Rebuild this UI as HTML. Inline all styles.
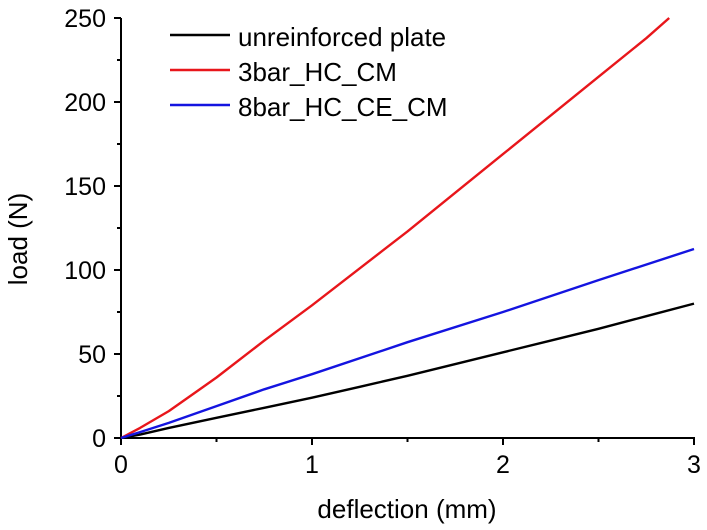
<!DOCTYPE html>
<html><head><meta charset="utf-8"><style>
body{margin:0;background:#fff;}
svg{display:block;font-family:"Liberation Sans",Arial,sans-serif;}
</style></head><body>
<svg id="chart" width="707" height="530"></svg>
<script>
const xTicks=[0,1,2,3];
const yTicks=[0,50,100,150,200,250];
const seriesNames=["unreinforced plate","3bar_HC_CM","8bar_HC_CE_CM"];
const seriesColors=["#000000","#e8161b","#1414e0"];
const blackX=[0,0.1,0.25,0.5,0.75,1,1.25,1.5,1.75,2,2.25,2.5,2.75,3];
const blackY=[0,2,6,12,18,24,30.5,37,44,51,58,65,72.5,80];
const redX=[0,0.1,0.25,0.4,0.5,0.75,1,1.25,1.5,1.75,2,2.25,2.5,2.75,2.87];
const redY=[0,6,16,28,36,58,79,101,123,146,169,192,215,238,250];
const blueX=[0,0.1,0.25,0.5,0.75,1,1.5,2,2.5,3];
const blueY=[0,3.5,9,19,29,38,57,75,94,112.5];
const X0=121,X1=694,Y0=438,Y1=18;
const sx=v=>X0+(v-0)/(3-0)*(X1-X0);
const sy=v=>Y0-(v-0)/(250-0)*(Y0-Y1);
const svg=document.getElementById('chart');
const NS='http://www.w3.org/2000/svg';
function mk(t,a,txt){const e=document.createElementNS(NS,t);for(const k in a)e.setAttribute(k,a[k]);if(txt!==undefined)e.textContent=txt;svg.appendChild(e);return e;}
let e;
e=mk('line',{x1:X0,y1:Y0,x2:X1+1,y2:Y0,stroke:'#000','stroke-width':2});


e=mk('line',{x1:X0,y1:Y0,x2:X0,y2:Y1,stroke:'#000','stroke-width':2});


xTicks.forEach((t,i)=>{
 e=mk('line',{x1:sx(t),y1:Y0,x2:sx(t),y2:Y0+7,stroke:'#000','stroke-width':2});
 
 
 if(i<xTicks.length-1){e=mk('line',{x1:sx(t+0.5),y1:Y0,x2:sx(t+0.5),y2:Y0+4,stroke:'#000','stroke-width':2});
 
 }
 e=mk('text',{x:sx(t),y:Y0+35,'font-size':25,'text-anchor':'middle'},String(t));
 
 
});
yTicks.forEach((t,i)=>{
 e=mk('line',{x1:X0-7,y1:sy(t),x2:X0,y2:sy(t),stroke:'#000','stroke-width':2});
 
 
 if(i<yTicks.length-1){e=mk('line',{x1:X0-4,y1:sy(t+25),x2:X0,y2:sy(t+25),stroke:'#000','stroke-width':2});
 
 }
 e=mk('text',{x:X0-15,y:sy(t)+9,'font-size':25,'text-anchor':'end'},String(t));
 
 
});
e=mk('text',{x:407,y:518,'font-size':26,'text-anchor':'middle'},'deflection (mm)');


e=mk('text',{x:0,y:0,'font-size':26,'text-anchor':'middle',transform:'translate(27,239) rotate(-90)'},'load (N)');


const all=[[blackX,blackY],[redX,redY],[blueX,blueY]];
all.forEach((s,i)=>{
 const d=s[0].map((x,j)=>(j?'L':'M')+sx(x).toFixed(1)+','+sy(s[1][j]).toFixed(1)).join(' ');
 e=mk('path',{d:d,fill:'none',stroke:seriesColors[i],'stroke-width':2.4,'stroke-linejoin':'round'});
 
 
});
seriesNames.forEach((n,i)=>{
 const y=35+i*35;
 e=mk('line',{x1:170,y1:y,x2:230,y2:y,stroke:seriesColors[i],'stroke-width':2.4});
 
 
 e=mk('text',{x:238,y:y+11,'font-size':26},n);
 
 
});
</script>
</body></html>
